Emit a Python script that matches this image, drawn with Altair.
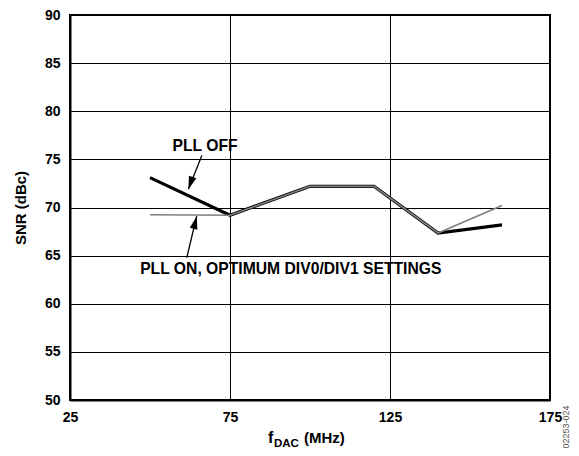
import altair as alt
import pandas as pd

# ---- data ----
freq = [50, 75, 100, 120, 140, 160]
snr_pll_off = [73.1, 69.2, 72.2, 72.2, 67.35, 68.2]
snr_pll_on = [69.25, 69.2, 72.2, 72.2, 67.35, 70.2]

x_ticks = [25, 75, 125, 175]
y_ticks = [50, 55, 60, 65, 70, 75, 80, 85, 90]

# annotations (data coordinates)
label_text = ["PLL OFF", "PLL ON, OPTIMUM DIV0/DIV1 SETTINGS"]
label_x = [67.2, 94.0]
label_y = [76.4, 63.6]
arrow_x0 = [66.2, 61.5]
arrow_y0 = [75.4, 64.8]
arrow_x1 = [62.0, 64.6]
arrow_y1 = [71.9, 69.1]
arrow_angle = [199, 14]

FONT = "Liberation Sans"

df_off = pd.DataFrame({"f": freq, "snr": snr_pll_off})
df_on = pd.DataFrame({"f": freq, "snr": snr_pll_on})
df_lab = pd.DataFrame({"x": label_x, "y": label_y, "t": label_text})
df_arr = pd.DataFrame({"x0": arrow_x0, "y0": arrow_y0, "x1": arrow_x1,
                       "y1": arrow_y1, "a": arrow_angle})

xs = alt.Scale(domain=[25, 175], nice=False)
ys = alt.Scale(domain=[50, 90], nice=False)

xaxis = alt.Axis(values=x_ticks, title=None, grid=True, gridColor="black",
                 gridWidth=1, gridOpacity=1, ticks=False, labelFontSize=14,
                 labelFontWeight="bold", labelFont=FONT, labelColor="black",
                 labelPadding=10, domainColor="black", domainWidth=2,
                 labelFlush=False)
yaxis = alt.Axis(values=y_ticks, title="SNR (dBc)", grid=True, gridColor="black",
                 gridWidth=1, gridOpacity=1, ticks=False, labelFontSize=14,
                 labelFontWeight="bold", labelFont=FONT, labelColor="black",
                 labelPadding=10, domainColor="black", domainWidth=2,
                 titleFont=FONT, titleFontSize=15, titleFontWeight="bold",
                 titleColor="black", titlePadding=16, labelFlush=False)

base_x = alt.X("f:Q", scale=xs, axis=xaxis)
base_y = alt.Y("snr:Q", scale=ys, axis=yaxis)

line_off = alt.Chart(df_off).mark_line(color="black", strokeWidth=3.2).encode(
    x=base_x, y=base_y)
line_on = alt.Chart(df_on).mark_line(color="#808080", strokeWidth=1.6).encode(
    x=alt.X("f:Q", scale=xs), y=alt.Y("snr:Q", scale=ys))

labels = alt.Chart(df_lab).mark_text(font=FONT, fontSize=15.7, fontWeight="bold",
                                     color="black").encode(
    x=alt.X("x:Q", scale=xs), y=alt.Y("y:Q", scale=ys), text="t:N")

shafts = alt.Chart(df_arr).mark_rule(color="black", strokeWidth=1.3).encode(
    x=alt.X("x0:Q", scale=xs), y=alt.Y("y0:Q", scale=ys),
    x2="x1:Q", y2="y1:Q")

heads = alt.Chart(df_arr).mark_point(
    shape="M0,0 L-0.6,2 L0.6,2 Z", filled=True, color="black", opacity=1,
    size=169, strokeWidth=0).encode(
    x=alt.X("x1:Q", scale=xs), y=alt.Y("y1:Q", scale=ys),
    angle=alt.Angle("a:Q", scale=None))

# x-axis title with subscript
t_f = alt.Chart(df_lab.head(1)).mark_text(
    text="f", font=FONT, fontSize=16, fontWeight="bold", color="black",
    align="left", baseline="alphabetic").encode(
    x=alt.value(198), y=alt.value(428))
t_dac = alt.Chart(df_lab.head(1)).mark_text(
    text="DAC", font=FONT, fontSize=11.5, fontWeight="bold", color="black",
    align="left", baseline="alphabetic").encode(
    x=alt.value(204), y=alt.value(432))
t_mhz = alt.Chart(df_lab.head(1)).mark_text(
    text="(MHz)", font=FONT, fontSize=15, fontWeight="bold", color="black",
    align="left", baseline="alphabetic").encode(
    x=alt.value(234), y=alt.value(428))
t_id = alt.Chart(df_lab.head(1)).mark_text(
    text="02253-024", font=FONT, fontSize=9, color="#555555", angle=270,
    align="center", baseline="middle").encode(
    x=alt.value(496), y=alt.value(412))

chart = alt.layer(line_off, line_on, shafts, heads, labels,
                  t_f, t_dac, t_mhz, t_id).properties(
    width=480, height=385,
    padding={"left": 62, "top": 7, "right": 21, "bottom": 48},
    autosize="none",
).configure_view(stroke="black", strokeWidth=2)

chart.save("out.html", embed_options={"renderer": "svg", "actions": False})
